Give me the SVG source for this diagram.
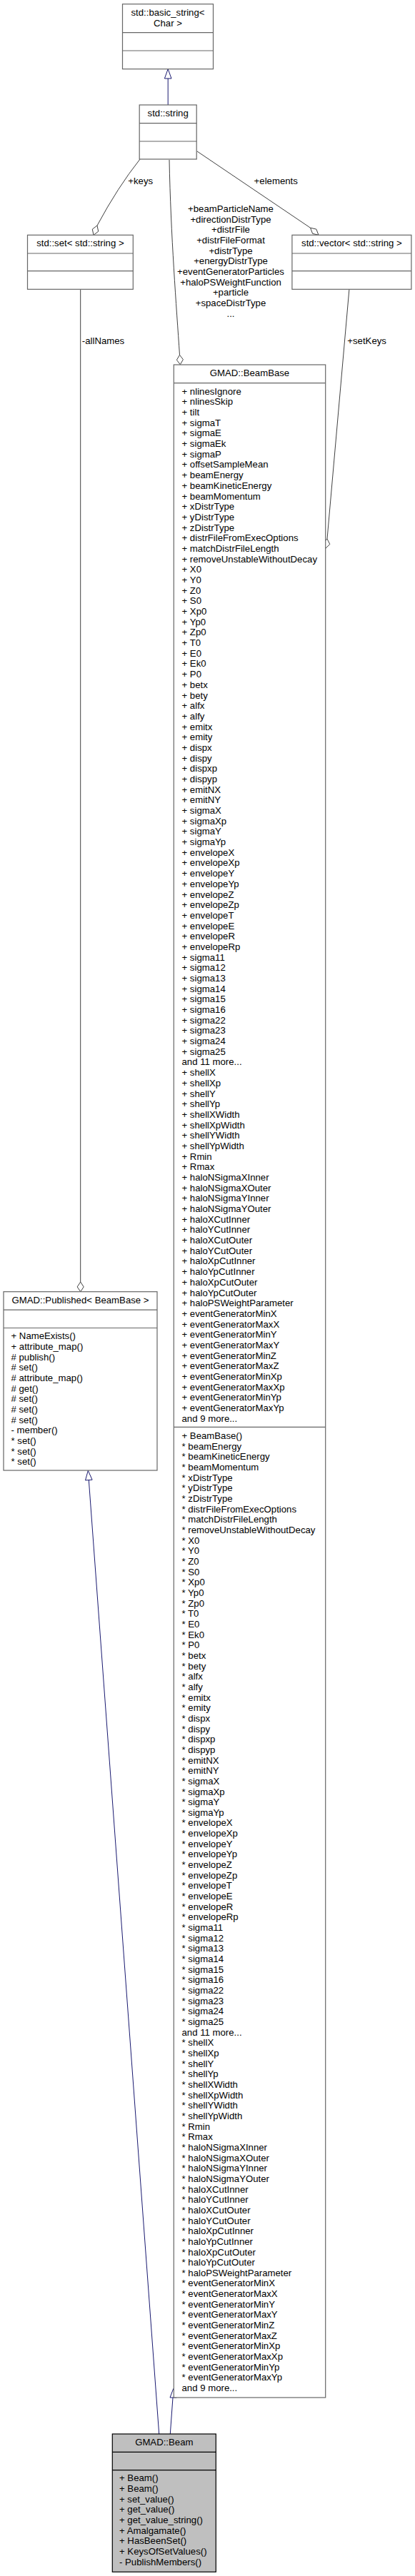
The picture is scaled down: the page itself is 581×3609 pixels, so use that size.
<svg xmlns="http://www.w3.org/2000/svg" width="581" height="3609" viewBox="0 0 581 3609">
<style>
.n{fill:#fff;stroke:#666;stroke-width:1.2}
.b{fill:#bfbfbf;stroke:#000;stroke-width:1.2}
.s{stroke:#000;stroke-width:1.2}
.t{font-family:"Liberation Sans",Arial,Helvetica,sans-serif;font-size:13.2px;fill:#000}
.c{text-anchor:middle}
.e{fill:none;stroke:#404040;stroke-width:1}
.i{fill:none;stroke:#191970;stroke-width:1}
.d{fill:#fff;stroke:#404040;stroke-width:1}
.a{fill:#fff;stroke:#191970;stroke-width:1}
</style>
<rect width="581" height="3609" fill="#fff"/>
<g id="connectors">
<path class="i" d="M235.2,147 L235.2,110"/>
<polygon class="a" points="235.2,96.7 240,110 230.4,110"/>
<path class="e" d="M196,223 Q165,262 136,316"/>
<polygon class="d" points="131,329.3 137.7,324.2 136,316 129.3,321.1"/>
<path class="e" d="M276,212 L434.5,319.2"/>
<polygon class="d" points="446,329.3 442.8,321.1 434.5,319.2 437.6,327.3"/>
<path class="e" d="M237,224 C239,330 247,430 251.5,497.3"/>
<polygon class="d" points="252.3,510.7 256.4,503.7 251.5,497.3 247.4,504.3"/>
<path class="e" d="M488.9,405.3 L458,755"/>
<polygon class="d" points="455.7,768.3 461.8,762.5 458,755 451.9,760.8"/>
<path class="e" d="M112.7,405.3 L112.7,1796"/>
<polygon class="d" points="112.7,1809.7 117.2,1802.9 112.7,1796 108.2,1802.9"/>
<path class="i" d="M124.3,2073.6 L222.7,3410"/>
<polygon class="a" points="123.3,2060.3 129.1,2073.2 119.5,2073.9"/>
<path class="i" d="M242,3359 L238.3,3410"/>
<polygon class="a" points="242.7,3346.7 247.3,3359 238,3359"/>
<text class="t" x="179.3" y="258.4">+keys</text>
<text class="t" x="355.6" y="258.4">+elements</text>
<text class="t" x="114.8" y="482.1">-allNames</text>
<text class="t" x="486.3" y="482.1">+setKeys</text>
<text class="t c" x="323" y="297.1"><tspan x="323">+beamParticleName</tspan><tspan x="323" dy="14.66">+directionDistrType</tspan><tspan x="323" dy="14.66">+distrFile</tspan><tspan x="323" dy="14.66">+distrFileFormat</tspan><tspan x="323" dy="14.66">+distrType</tspan><tspan x="323" dy="14.66">+energyDistrType</tspan><tspan x="323" dy="14.66">+eventGeneratorParticles</tspan><tspan x="323" dy="14.66">+haloPSWeightFunction</tspan><tspan x="323" dy="14.66">+particle</tspan><tspan x="323" dy="14.66">+spaceDistrType</tspan><tspan x="323" dy="14.66">...</tspan></text>
</g>
<g id="basic_string">
<rect class="n" x="171.5" y="5.7" width="127" height="91"/>
<line class="n" x1="171.5" y1="45.7" x2="298.5" y2="45.7"/>
<line class="n" x1="171.5" y1="71" x2="298.5" y2="71"/>
<text class="t c" x="235" y="22">std::basic_string&lt;</text>
<text class="t c" x="235" y="36.5">Char &gt;</text>
</g>
<g id="string">
<rect class="n" x="195.2" y="147" width="80" height="76"/>
<line class="n" x1="195.2" y1="172.7" x2="275.2" y2="172.7"/>
<line class="n" x1="195.2" y1="198" x2="275.2" y2="198"/>
<text class="t c" x="235.2" y="163.4">std::string</text>
</g>
<g id="set">
<rect class="n" x="38.5" y="329.3" width="147.8" height="76"/>
<line class="n" x1="38.5" y1="355" x2="186.3" y2="355"/>
<line class="n" x1="38.5" y1="379.7" x2="186.3" y2="379.7"/>
<text class="t c" x="112.4" y="345.4">std::set&lt; std::string &gt;</text>
</g>
<g id="vector">
<rect class="n" x="408.9" y="329.3" width="167" height="76"/>
<line class="n" x1="408.9" y1="355" x2="575.9" y2="355"/>
<line class="n" x1="408.9" y1="379.7" x2="575.9" y2="379.7"/>
<text class="t c" x="492.4" y="345.4">std::vector&lt; std::string &gt;</text>
</g>
<g id="beambase">
<rect class="n" x="243.3" y="511" width="212.4" height="2848"/>
<line class="n" x1="243.3" y1="536.7" x2="455.7" y2="536.7"/>
<line class="n" x1="243.3" y1="1999.3" x2="455.7" y2="1999.3"/>
<text class="t c" x="349.5" y="527.1">GMAD::BeamBase</text>
<text class="t" x="254.5" y="552.7"><tspan x="254.5">+ nlinesIgnore</tspan><tspan x="254.5" dy="14.684">+ nlinesSkip</tspan><tspan x="254.5" dy="14.684">+ tilt</tspan><tspan x="254.5" dy="14.684">+ sigmaT</tspan><tspan x="254.5" dy="14.684">+ sigmaE</tspan><tspan x="254.5" dy="14.684">+ sigmaEk</tspan><tspan x="254.5" dy="14.684">+ sigmaP</tspan><tspan x="254.5" dy="14.684">+ offsetSampleMean</tspan><tspan x="254.5" dy="14.684">+ beamEnergy</tspan><tspan x="254.5" dy="14.684">+ beamKineticEnergy</tspan><tspan x="254.5" dy="14.684">+ beamMomentum</tspan><tspan x="254.5" dy="14.684">+ xDistrType</tspan><tspan x="254.5" dy="14.684">+ yDistrType</tspan><tspan x="254.5" dy="14.684">+ zDistrType</tspan><tspan x="254.5" dy="14.684">+ distrFileFromExecOptions</tspan><tspan x="254.5" dy="14.684">+ matchDistrFileLength</tspan><tspan x="254.5" dy="14.684">+ removeUnstableWithoutDecay</tspan><tspan x="254.5" dy="14.684">+ X0</tspan><tspan x="254.5" dy="14.684">+ Y0</tspan><tspan x="254.5" dy="14.684">+ Z0</tspan><tspan x="254.5" dy="14.684">+ S0</tspan><tspan x="254.5" dy="14.684">+ Xp0</tspan><tspan x="254.5" dy="14.684">+ Yp0</tspan><tspan x="254.5" dy="14.684">+ Zp0</tspan><tspan x="254.5" dy="14.684">+ T0</tspan><tspan x="254.5" dy="14.684">+ E0</tspan><tspan x="254.5" dy="14.684">+ Ek0</tspan><tspan x="254.5" dy="14.684">+ P0</tspan><tspan x="254.5" dy="14.684">+ betx</tspan><tspan x="254.5" dy="14.684">+ bety</tspan><tspan x="254.5" dy="14.684">+ alfx</tspan><tspan x="254.5" dy="14.684">+ alfy</tspan><tspan x="254.5" dy="14.684">+ emitx</tspan><tspan x="254.5" dy="14.684">+ emity</tspan><tspan x="254.5" dy="14.684">+ dispx</tspan><tspan x="254.5" dy="14.684">+ dispy</tspan><tspan x="254.5" dy="14.684">+ dispxp</tspan><tspan x="254.5" dy="14.684">+ dispyp</tspan><tspan x="254.5" dy="14.684">+ emitNX</tspan><tspan x="254.5" dy="14.684">+ emitNY</tspan><tspan x="254.5" dy="14.684">+ sigmaX</tspan><tspan x="254.5" dy="14.684">+ sigmaXp</tspan><tspan x="254.5" dy="14.684">+ sigmaY</tspan><tspan x="254.5" dy="14.684">+ sigmaYp</tspan><tspan x="254.5" dy="14.684">+ envelopeX</tspan><tspan x="254.5" dy="14.684">+ envelopeXp</tspan><tspan x="254.5" dy="14.684">+ envelopeY</tspan><tspan x="254.5" dy="14.684">+ envelopeYp</tspan><tspan x="254.5" dy="14.684">+ envelopeZ</tspan><tspan x="254.5" dy="14.684">+ envelopeZp</tspan><tspan x="254.5" dy="14.684">+ envelopeT</tspan><tspan x="254.5" dy="14.684">+ envelopeE</tspan><tspan x="254.5" dy="14.684">+ envelopeR</tspan><tspan x="254.5" dy="14.684">+ envelopeRp</tspan><tspan x="254.5" dy="14.684">+ sigma11</tspan><tspan x="254.5" dy="14.684">+ sigma12</tspan><tspan x="254.5" dy="14.684">+ sigma13</tspan><tspan x="254.5" dy="14.684">+ sigma14</tspan><tspan x="254.5" dy="14.684">+ sigma15</tspan><tspan x="254.5" dy="14.684">+ sigma16</tspan><tspan x="254.5" dy="14.684">+ sigma22</tspan><tspan x="254.5" dy="14.684">+ sigma23</tspan><tspan x="254.5" dy="14.684">+ sigma24</tspan><tspan x="254.5" dy="14.684">+ sigma25</tspan><tspan x="254.5" dy="14.684">and 11 more...</tspan><tspan x="254.5" dy="14.684">+ shellX</tspan><tspan x="254.5" dy="14.684">+ shellXp</tspan><tspan x="254.5" dy="14.684">+ shellY</tspan><tspan x="254.5" dy="14.684">+ shellYp</tspan><tspan x="254.5" dy="14.684">+ shellXWidth</tspan><tspan x="254.5" dy="14.684">+ shellXpWidth</tspan><tspan x="254.5" dy="14.684">+ shellYWidth</tspan><tspan x="254.5" dy="14.684">+ shellYpWidth</tspan><tspan x="254.5" dy="14.684">+ Rmin</tspan><tspan x="254.5" dy="14.684">+ Rmax</tspan><tspan x="254.5" dy="14.684">+ haloNSigmaXInner</tspan><tspan x="254.5" dy="14.684">+ haloNSigmaXOuter</tspan><tspan x="254.5" dy="14.684">+ haloNSigmaYInner</tspan><tspan x="254.5" dy="14.684">+ haloNSigmaYOuter</tspan><tspan x="254.5" dy="14.684">+ haloXCutInner</tspan><tspan x="254.5" dy="14.684">+ haloYCutInner</tspan><tspan x="254.5" dy="14.684">+ haloXCutOuter</tspan><tspan x="254.5" dy="14.684">+ haloYCutOuter</tspan><tspan x="254.5" dy="14.684">+ haloXpCutInner</tspan><tspan x="254.5" dy="14.684">+ haloYpCutInner</tspan><tspan x="254.5" dy="14.684">+ haloXpCutOuter</tspan><tspan x="254.5" dy="14.684">+ haloYpCutOuter</tspan><tspan x="254.5" dy="14.684">+ haloPSWeightParameter</tspan><tspan x="254.5" dy="14.684">+ eventGeneratorMinX</tspan><tspan x="254.5" dy="14.684">+ eventGeneratorMaxX</tspan><tspan x="254.5" dy="14.684">+ eventGeneratorMinY</tspan><tspan x="254.5" dy="14.684">+ eventGeneratorMaxY</tspan><tspan x="254.5" dy="14.684">+ eventGeneratorMinZ</tspan><tspan x="254.5" dy="14.684">+ eventGeneratorMaxZ</tspan><tspan x="254.5" dy="14.684">+ eventGeneratorMinXp</tspan><tspan x="254.5" dy="14.684">+ eventGeneratorMaxXp</tspan><tspan x="254.5" dy="14.684">+ eventGeneratorMinYp</tspan><tspan x="254.5" dy="14.684">+ eventGeneratorMaxYp</tspan><tspan x="254.5" dy="14.684">and 9 more...</tspan></text>
<text class="t" x="254.5" y="2016.1"><tspan x="254.5">+ BeamBase()</tspan><tspan x="254.5" dy="14.659">* beamEnergy</tspan><tspan x="254.5" dy="14.659">* beamKineticEnergy</tspan><tspan x="254.5" dy="14.659">* beamMomentum</tspan><tspan x="254.5" dy="14.659">* xDistrType</tspan><tspan x="254.5" dy="14.659">* yDistrType</tspan><tspan x="254.5" dy="14.659">* zDistrType</tspan><tspan x="254.5" dy="14.659">* distrFileFromExecOptions</tspan><tspan x="254.5" dy="14.659">* matchDistrFileLength</tspan><tspan x="254.5" dy="14.659">* removeUnstableWithoutDecay</tspan><tspan x="254.5" dy="14.659">* X0</tspan><tspan x="254.5" dy="14.659">* Y0</tspan><tspan x="254.5" dy="14.659">* Z0</tspan><tspan x="254.5" dy="14.659">* S0</tspan><tspan x="254.5" dy="14.659">* Xp0</tspan><tspan x="254.5" dy="14.659">* Yp0</tspan><tspan x="254.5" dy="14.659">* Zp0</tspan><tspan x="254.5" dy="14.659">* T0</tspan><tspan x="254.5" dy="14.659">* E0</tspan><tspan x="254.5" dy="14.659">* Ek0</tspan><tspan x="254.5" dy="14.659">* P0</tspan><tspan x="254.5" dy="14.659">* betx</tspan><tspan x="254.5" dy="14.659">* bety</tspan><tspan x="254.5" dy="14.659">* alfx</tspan><tspan x="254.5" dy="14.659">* alfy</tspan><tspan x="254.5" dy="14.659">* emitx</tspan><tspan x="254.5" dy="14.659">* emity</tspan><tspan x="254.5" dy="14.659">* dispx</tspan><tspan x="254.5" dy="14.659">* dispy</tspan><tspan x="254.5" dy="14.659">* dispxp</tspan><tspan x="254.5" dy="14.659">* dispyp</tspan><tspan x="254.5" dy="14.659">* emitNX</tspan><tspan x="254.5" dy="14.659">* emitNY</tspan><tspan x="254.5" dy="14.659">* sigmaX</tspan><tspan x="254.5" dy="14.659">* sigmaXp</tspan><tspan x="254.5" dy="14.659">* sigmaY</tspan><tspan x="254.5" dy="14.659">* sigmaYp</tspan><tspan x="254.5" dy="14.659">* envelopeX</tspan><tspan x="254.5" dy="14.659">* envelopeXp</tspan><tspan x="254.5" dy="14.659">* envelopeY</tspan><tspan x="254.5" dy="14.659">* envelopeYp</tspan><tspan x="254.5" dy="14.659">* envelopeZ</tspan><tspan x="254.5" dy="14.659">* envelopeZp</tspan><tspan x="254.5" dy="14.659">* envelopeT</tspan><tspan x="254.5" dy="14.659">* envelopeE</tspan><tspan x="254.5" dy="14.659">* envelopeR</tspan><tspan x="254.5" dy="14.659">* envelopeRp</tspan><tspan x="254.5" dy="14.659">* sigma11</tspan><tspan x="254.5" dy="14.659">* sigma12</tspan><tspan x="254.5" dy="14.659">* sigma13</tspan><tspan x="254.5" dy="14.659">* sigma14</tspan><tspan x="254.5" dy="14.659">* sigma15</tspan><tspan x="254.5" dy="14.659">* sigma16</tspan><tspan x="254.5" dy="14.659">* sigma22</tspan><tspan x="254.5" dy="14.659">* sigma23</tspan><tspan x="254.5" dy="14.659">* sigma24</tspan><tspan x="254.5" dy="14.659">* sigma25</tspan><tspan x="254.5" dy="14.659">and 11 more...</tspan><tspan x="254.5" dy="14.659">* shellX</tspan><tspan x="254.5" dy="14.659">* shellXp</tspan><tspan x="254.5" dy="14.659">* shellY</tspan><tspan x="254.5" dy="14.659">* shellYp</tspan><tspan x="254.5" dy="14.659">* shellXWidth</tspan><tspan x="254.5" dy="14.659">* shellXpWidth</tspan><tspan x="254.5" dy="14.659">* shellYWidth</tspan><tspan x="254.5" dy="14.659">* shellYpWidth</tspan><tspan x="254.5" dy="14.659">* Rmin</tspan><tspan x="254.5" dy="14.659">* Rmax</tspan><tspan x="254.5" dy="14.659">* haloNSigmaXInner</tspan><tspan x="254.5" dy="14.659">* haloNSigmaXOuter</tspan><tspan x="254.5" dy="14.659">* haloNSigmaYInner</tspan><tspan x="254.5" dy="14.659">* haloNSigmaYOuter</tspan><tspan x="254.5" dy="14.659">* haloXCutInner</tspan><tspan x="254.5" dy="14.659">* haloYCutInner</tspan><tspan x="254.5" dy="14.659">* haloXCutOuter</tspan><tspan x="254.5" dy="14.659">* haloYCutOuter</tspan><tspan x="254.5" dy="14.659">* haloXpCutInner</tspan><tspan x="254.5" dy="14.659">* haloYpCutInner</tspan><tspan x="254.5" dy="14.659">* haloXpCutOuter</tspan><tspan x="254.5" dy="14.659">* haloYpCutOuter</tspan><tspan x="254.5" dy="14.659">* haloPSWeightParameter</tspan><tspan x="254.5" dy="14.659">* eventGeneratorMinX</tspan><tspan x="254.5" dy="14.659">* eventGeneratorMaxX</tspan><tspan x="254.5" dy="14.659">* eventGeneratorMinY</tspan><tspan x="254.5" dy="14.659">* eventGeneratorMaxY</tspan><tspan x="254.5" dy="14.659">* eventGeneratorMinZ</tspan><tspan x="254.5" dy="14.659">* eventGeneratorMaxZ</tspan><tspan x="254.5" dy="14.659">* eventGeneratorMinXp</tspan><tspan x="254.5" dy="14.659">* eventGeneratorMaxXp</tspan><tspan x="254.5" dy="14.659">* eventGeneratorMinYp</tspan><tspan x="254.5" dy="14.659">* eventGeneratorMaxYp</tspan><tspan x="254.5" dy="14.659">and 9 more...</tspan></text>
</g>
<g id="published">
<rect class="n" x="5" y="1809.7" width="215" height="250.3"/>
<line class="n" x1="5" y1="1835.2" x2="220" y2="1835.2"/>
<line class="n" x1="5" y1="1860.5" x2="220" y2="1860.5"/>
<text class="t c" x="112.5" y="1825.8">GMAD::Published&lt; BeamBase &gt;</text>
<text class="t" x="15.5" y="1876.4"><tspan x="15.5">+ NameExists()</tspan><tspan x="15.5" dy="14.66">+ attribute_map()</tspan><tspan x="15.5" dy="14.66"># publish()</tspan><tspan x="15.5" dy="14.66"># set()</tspan><tspan x="15.5" dy="14.66"># attribute_map()</tspan><tspan x="15.5" dy="14.66"># get()</tspan><tspan x="15.5" dy="14.66"># set()</tspan><tspan x="15.5" dy="14.66"># set()</tspan><tspan x="15.5" dy="14.66"># set()</tspan><tspan x="15.5" dy="14.66">- member()</tspan><tspan x="15.5" dy="14.66">* set()</tspan><tspan x="15.5" dy="14.66">* set()</tspan><tspan x="15.5" dy="14.66">* set()</tspan></text>
</g>
<g id="beam">
<rect class="b" x="157.3" y="3410" width="145" height="193.3"/>
<line class="s" x1="157.3" y1="3435.3" x2="302.3" y2="3435.3"/>
<line class="s" x1="157.3" y1="3460.7" x2="302.3" y2="3460.7"/>
<text class="t c" x="229.8" y="3426">GMAD::Beam</text>
<text class="t" x="167" y="3476.4"><tspan x="167">+ Beam()</tspan><tspan x="167" dy="14.66">+ Beam()</tspan><tspan x="167" dy="14.66">+ set_value()</tspan><tspan x="167" dy="14.66">+ get_value()</tspan><tspan x="167" dy="14.66">+ get_value_string()</tspan><tspan x="167" dy="14.66">+ Amalgamate()</tspan><tspan x="167" dy="14.66">+ HasBeenSet()</tspan><tspan x="167" dy="14.66">+ KeysOfSetValues()</tspan><tspan x="167" dy="14.66">- PublishMembers()</tspan></text>
</g>
</svg>
